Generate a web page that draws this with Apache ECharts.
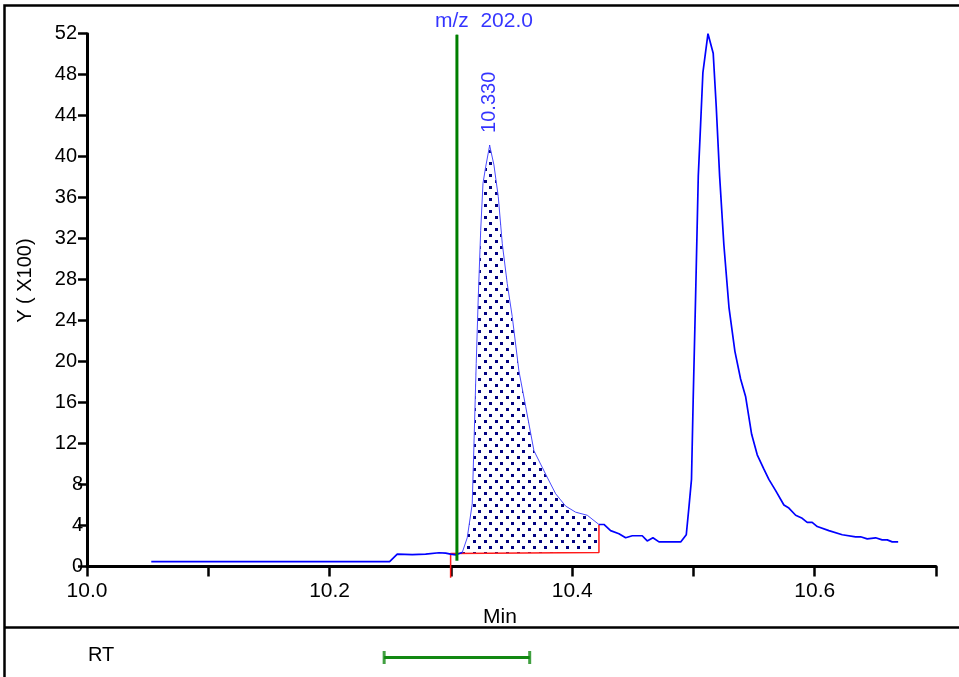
<!DOCTYPE html>
<html><head><meta charset="utf-8">
<script src="https://cdn.jsdelivr.net/npm/echarts@6/dist/echarts.min.js"></script>
<style>html,body{margin:0;padding:0;background:#fff}#c{width:959px;height:677px}</style>
</head><body><div id="c"></div>
<script>
// ---- data ----
const rtMinutes = [10.0530,10.2495,10.2558,10.2682,10.2792,10.2902,10.2957,10.2998,10.3040,10.3094,
  10.3135,10.3176,10.3190,10.3209,10.3226,10.3246,10.3265,10.3287,10.3320,10.3355,
  10.3391,10.3424,10.3465,10.3506,10.3561,10.3617,10.3685,10.3782,10.3864,10.3946,
  10.4029,10.4125,10.4221,10.4262,10.4317,10.4386,10.4441,10.4496,10.4537,10.4578,
  10.4619,10.4666,10.4716,10.4798,10.4895,10.4941,10.4963,10.4984,10.4998,10.5018,
  10.5040,10.5059,10.5078,10.5120,10.5163,10.5188,10.5216,10.5251,10.5293,10.5342,
  10.5389,10.5430,10.5480,10.5526,10.5581,10.5622,10.5678,10.5746,10.5787,10.5843,
  10.5897,10.5938,10.5979,10.6021,10.6117,10.6227,10.6337,10.6378,10.6433,10.6502,
  10.6556,10.6598,10.6639,10.6688];
const intensity = [0.48,0.48,1.20,1.15,1.20,1.34,1.30,1.20,1.14,1.37,
  2.8,6.1,11.7,19.8,26.3,32.8,37.4,39.0,41.1,39.2,
  36.1,31.5,27.6,24.4,19.1,15.6,11.3,9.0,7.1,5.9,
  5.3,5.0,4.1,4.1,3.5,3.2,2.8,3.0,3.0,3.0,
  2.5,2.8,2.4,2.4,2.4,3.1,5.8,8.5,16.3,26.4,
  38.1,43.1,48.2,52.0,50.1,44.9,38.1,31.4,25.3,21.0,
  18.3,16.6,12.9,10.9,9.5,8.5,7.4,6.0,5.7,5.0,
  4.7,4.3,4.3,3.9,3.5,3.1,2.9,2.9,2.7,2.8,
  2.6,2.6,2.4,2.4];
const yTickLabels = ['0','4','8','12','16','20','24','28','32','36','40','44','48','52'];
const xTickLabels = ['10.0','10.2','10.4','10.6'];
const peakWindow = [10.3094, 10.4221];          // integrated region (trace part)
const baselineTimes = [10.2998, 10.4221];       // red integration baseline
const baselineValues = [1.27, 1.37];
const baselineDrop = -1.1;                      // red start tick below axis
const markerTime = 10.305;                      // green vertical marker
const markerRange = [0.55, 51.9];
const markerLabel = 'm/z  202.0';
const peakApex = [10.332, 41.1];
const peakLabel = '10.330';
const rtWindow = [10.245, 10.365];
const yAxisTitle = 'Y ( X100)';
const xAxisTitle = 'Min';
const rtTitle = 'RT';

// ---- build ----
const FONT = "'Liberation Sans', Arial, sans-serif";
const BLUE = '#0000ff';
const pts = rtMinutes.map((t,i)=>[t,intensity[i]]);
const pre = pts.filter(p=>p[0] <= peakWindow[0]);
const peak = pts.filter(p=>p[0] >= peakWindow[0] && p[0] <= peakWindow[1]);
const post = pts.filter(p=>p[0] >= peakWindow[1]);
const baseAt = t => baselineValues[0] + (baselineValues[1]-baselineValues[0])*(t-baselineTimes[0])/(baselineTimes[1]-baselineTimes[0]);

const pc = document.createElement('canvas');
pc.width = 11; pc.height = 12;
const g = pc.getContext('2d');
g.fillStyle = '#000080';
g.fillRect(0,0,3,3);
g.fillRect(5,6,3,3);
const pattern = {image: pc, repeat: 'repeat'};

const chart = echarts.init(document.getElementById('c'), null, {renderer:'canvas'});
const axisBlack = {color:'#000', width:3};
chart.setOption({
  animation:false,
  backgroundColor:'#fff',
  grid:[
    {left:87, right:23, top:33.7, bottom:110.5},
    {left:87, right:23, top:638, height:40}
  ],
  xAxis:[
    {type:'value', gridIndex:0, min:10, max:10.7, interval:0.1,
     axisLine:{lineStyle:axisBlack}, axisTick:{length:10, lineStyle:{color:'#000', width:2.5}},
     splitLine:{show:false}, showMinLabel:true, showMaxLabel:true,
     axisLabel:{color:'#000', fontSize:21, fontFamily:FONT, margin:14,
       formatter:v=>{const k=Math.round((v-10)*10); return k%2===0 && xTickLabels[k/2] ? xTickLabels[k/2] : '';}},
     name:xAxisTitle, nameLocation:'middle', nameGap:36,
     nameTextStyle:{color:'#000', fontSize:21, fontFamily:FONT, padding:[0,23,0,0]}},
    {type:'value', gridIndex:1, min:10, max:10.7, show:false}
  ],
  yAxis:[
    {type:'value', gridIndex:0, min:0, max:52, interval:4,
     axisLine:{show:true, lineStyle:axisBlack}, axisTick:{show:true, length:9, lineStyle:{color:'#000', width:2.5}},
     splitLine:{show:false},
     axisLabel:{margin:4, formatter:v=>{const s=yTickLabels[Math.round(v/4)]; return s.length>1 ? '{w|'+s+'}' : '{n|'+s+'}';},
       rich:{w:{fontSize:20, fontFamily:FONT, color:'#000', padding:[0,6,0,0]}, n:{fontSize:20, fontFamily:FONT, color:'#000'}}},
     name:yAxisTitle, nameLocation:'middle', nameGap:52, nameRotate:90,
     nameTextStyle:{color:'#000', fontSize:20, fontFamily:FONT, padding:[0,0,0,39]}},
    {type:'value', gridIndex:1, min:-1, max:1, show:false}
  ],
  series:[
    {type:'custom', xAxisIndex:0, yAxisIndex:0, z:1, silent:true,
     data:[[peakWindow[0], 0]],
     renderItem:(params, api)=>{
       const poly = peak.map(p=>api.coord(p));
       poly.push(api.coord([baselineTimes[1], baselineValues[1]]));
       poly.push(api.coord([peakWindow[0], baseAt(peakWindow[0])]));
       return {type:'polygon', shape:{points:poly}, style:{fill:pattern, stroke:null}};
     }},
    {type:'line', data:[[baselineTimes[0], baselineDrop],[baselineTimes[0], baselineValues[0]],[baselineTimes[1], baselineValues[1]],[baselineTimes[1], intensity[rtMinutes.indexOf(baselineTimes[1])]]],
     clip:false, symbol:'none', lineStyle:{color:'#ff1a1a', width:1.5}, z:3},
    {type:'line', data:pre, symbol:'none', lineStyle:{color:'#0000ff', width:1.7}, z:4},
    {type:'line', data:peak, symbol:'none', lineStyle:{color:'#4a4aff', width:1}, z:4},
    {type:'line', data:post, symbol:'none', lineStyle:{color:'#0000ff', width:1.7}, z:4},
    {type:'line', data:[[markerTime, markerRange[0]],[markerTime, markerRange[1]]], symbol:'none',
     lineStyle:{color:'#007f00', width:3}, z:5},
    {type:'scatter', data:[[markerTime, markerRange[1]]], symbolSize:1, itemStyle:{color:'#007f00'}, z:6,
     label:{show:true, position:'top', distance:3, offset:[27,0], formatter:markerLabel,
       color:BLUE, fontSize:21, fontFamily:FONT}},
    {type:'scatter', data:[peakApex], symbolSize:1, itemStyle:{color:BLUE}, z:6,
     label:{show:true, position:'top', distance:12, rotate:90, align:'left', verticalAlign:'middle',
       formatter:peakLabel, color:BLUE, fontSize:20, fontFamily:FONT}},
    {type:'line', xAxisIndex:1, yAxisIndex:1, data:[[rtWindow[0],0],[rtWindow[1],0]], symbol:'none',
     lineStyle:{color:'#118811', width:3}},
    {type:'scatter', xAxisIndex:1, yAxisIndex:1, data:[[rtWindow[0],0],[rtWindow[1],0]],
     symbol:'rect', symbolSize:[3,13], itemStyle:{color:'#118811'}}
  ],
  graphic:[
    {type:'rect', shape:{x:4.5, y:5.5, width:1000, height:700}, style:{fill:null, stroke:'#000', lineWidth:2.5}, silent:true},
    {type:'line', shape:{x1:4.5, y1:627.5, x2:960, y2:627.5}, style:{stroke:'#000', lineWidth:2.5}, silent:true},
    {type:'text', x:88, y:655, style:{text:rtTitle, fontSize:20, fontFamily:FONT, fill:'#000', verticalAlign:'middle'}}
  ]
});
</script></body></html>
